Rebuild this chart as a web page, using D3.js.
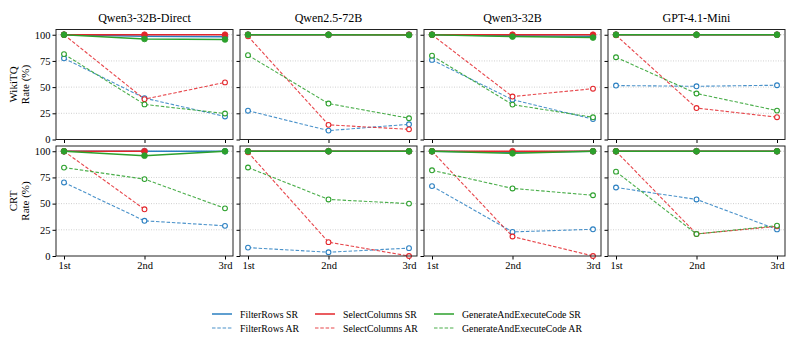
<!DOCTYPE html>
<html>
<head>
<meta charset="utf-8">
<script src="https://cdn.jsdelivr.net/npm/d3@7"></script>
<style>
  body { margin: 0; background: #fff; }
</style>
</head>
<body>
<div id="container"></div>
<script>
/* DATA */
const models = ["Qwen3-32B-Direct", "Qwen2.5-72B", "Qwen3-32B", "GPT-4.1-Mini"];
const rounds = ["1st", "2nd", "3rd"];
const datasets = ["WikiTQ", "CRT"];
const yTicks = [0, 25, 50, 75, 100];

// one row per model, values per round (null = no data)
const wikiFilterSR = [[100, 98.5, 98], [100, 100, 100], [100, 99, 98.5], [100, 100, 100]];
const wikiFilterAR = [[77.5, 39.5, 22], [27.5, 8.5, 14.5], [76, 38, 19.5], [51.5, 50.8, 51.8]];
const wikiSelectSR = [[100, 100, 100], [100, 100, 100], [100, 100, 100], [100, 100, 100]];
const wikiSelectAR = [[100, 38.5, 54.5], [98.5, 14, 9.7], [100, 41, 48.5], [99.5, 30, 21.3]];
const wikiCodeSR = [[100, 96, 95.5], [100, 100, 99.7], [100, 98.2, 97.3], [100, 100, 100]];
const wikiCodeAR = [[81.5, 33.5, 24.8], [80.5, 34.3, 20.3], [80, 33.3, 21.2], [78.5, 43.9, 27.6]];

const crtFilterSR = [[100, 100, 100], [100, 100, 100], [100, 99, 100], [100, 100, 100]];
const crtFilterAR = [[70.2, 33.6, 28.8], [8, 3.6, 7.5], [66.7, 23, 25.5], [65.4, 54, 25.4]];
const crtSelectSR = [[100, 100, null], [100, 100, 100], [100, 100, 100], [100, 100, 100]];
const crtSelectAR = [[100, 44.6, null], [99, 13.2, 0], [100, 18.6, 0], [100, 21, 28.3]];
const crtCodeSR = [[100, 95.8, 100], [100, 100, 100], [100, 98, 100], [100, 100, 100]];
const crtCodeAR = [[84.4, 73.4, 45.5], [84.5, 54, 50], [81.8, 64.5, 58], [80.5, 21, 29]];

const seriesNames = ["FilterRows", "SelectColumns", "GenerateAndExecuteCode"];
const seriesColors = ["#2a7fc1", "#e3262b", "#2ca02c"];
const wikiSeries = [[wikiFilterSR, wikiFilterAR], [wikiSelectSR, wikiSelectAR], [wikiCodeSR, wikiCodeAR]];
const crtSeries = [[crtFilterSR, crtFilterAR], [crtSelectSR, crtSelectAR], [crtCodeSR, crtCodeAR]];

/* LAYOUT */
const width = 792, height = 342;
const panelW = 177, panelH = 110, gapX = 7;
const panelLeft = 56;
const rowTops = [29.5, 146];

const svg = d3.select("#container").append("svg")
  .attr("width", width)
  .attr("height", height)
  .style("font-family", "'Liberation Serif', 'Times New Roman', Times, serif");

svg.append("rect").attr("width", width).attr("height", height).attr("fill", "#fff");

// 1st/3rd sit ~8px in from the frame edges
const x = d3.scalePoint().domain(rounds).range([8, panelW - 8]);
const y = d3.scaleLinear().domain([0, 105]).range([panelH, 0]);

datasets.forEach((ds, row) => {
  const series = row === 0 ? wikiSeries : crtSeries;

  models.forEach((model, col) => {
    const g = svg.append("g")
      .attr("transform", `translate(${panelLeft + col * (panelW + gapX)},${rowTops[row]})`);

    // grid
    g.selectAll("line.grid")
      .data(yTicks.filter(t => t > 0))
      .join("line")
      .attr("class", "grid")
      .attr("x1", 0).attr("x2", panelW)
      .attr("y1", d => y(d)).attr("y2", d => y(d))
      .attr("stroke", "#bbb")
      .attr("stroke-width", 0.7)
      .attr("stroke-dasharray", "1,1.5");

    // y axis
    const yAxis = d3.axisLeft(y).tickValues(yTicks).tickSize(3.5).tickPadding(2);
    if (col > 0) yAxis.tickFormat("");
    g.append("g").call(yAxis)
      .attr("font-family", null)
      .call(a => a.select(".domain").remove())
      .call(a => a.selectAll("text").attr("font-size", 10.5).attr("fill", "#000"));

    // x axis
    const xAxis = d3.axisBottom(x).tickSize(3.5).tickPadding(2);
    if (row === 0) xAxis.tickFormat("");
    g.append("g").attr("transform", `translate(0,${panelH})`).call(xAxis)
      .attr("font-family", null)
      .call(a => a.select(".domain").remove())
      .call(a => a.selectAll("text").attr("font-size", 10.5).attr("fill", "#000"));

    // lines & markers
    series.forEach(([srArr, arArr], si) => {
      const color = seriesColors[si];
      [[srArr, false], [arArr, true]].forEach(([arr, isAR]) => {
        const vals = arr[col].map((v, i) => ({ r: rounds[i], v }));
        const line = d3.line()
          .defined(d => d.v !== null)
          .x(d => x(d.r))
          .y(d => y(d.v));
        g.append("path")
          .attr("d", line(vals))
          .attr("fill", "none")
          .attr("stroke", color)
          .attr("stroke-width", isAR ? 1.1 : 1.5)
          .attr("stroke-opacity", isAR ? 0.85 : 1)
          .attr("stroke-dasharray", isAR ? "3.5,1.8" : null);
        g.selectAll(null)
          .data(vals.filter(d => d.v !== null))
          .join("circle")
          .attr("cx", d => x(d.r))
          .attr("cy", d => y(d.v))
          .attr("r", isAR ? 2.4 : 2.9)
          .attr("fill", isAR ? "#fff" : color)
          .attr("stroke", color)
          .attr("stroke-width", isAR ? 1.1 : 0.8);
      });
    });

    // frame
    g.append("rect")
      .attr("width", panelW).attr("height", panelH)
      .attr("fill", "none")
      .attr("stroke", "#222")
      .attr("stroke-width", 1);

    if (row === 0) {
      g.append("text")
        .attr("x", panelW / 2).attr("y", -8)
        .attr("text-anchor", "middle")
        .attr("font-size", 12)
        .text(model);
    }
  });

  // y label
  const cy = rowTops[row] + panelH / 2;
  const lab = svg.append("text")
    .attr("transform", `translate(17,${cy}) rotate(-90)`)
    .attr("text-anchor", "middle")
    .attr("font-size", 11);
  lab.append("tspan").attr("x", 0).attr("dy", 0).text(ds);
  lab.append("tspan").attr("x", 0).attr("dy", 12).text("Rate (%)");
});

/* LEGEND */
const legendCols = [212, 315, 434];
const legendRows = [314, 328];
seriesNames.forEach((name, si) => {
  ["SR", "AR"].forEach((kind, ki) => {
    const lg = svg.append("g").attr("transform", `translate(${legendCols[si]},${legendRows[ki]})`);
    lg.append("line")
      .attr("x1", 0).attr("x2", 20)
      .attr("stroke", seriesColors[si])
      .attr("stroke-width", kind === "SR" ? 1.5 : 1.1)
      .attr("stroke-opacity", kind === "SR" ? 1 : 0.85)
      .attr("stroke-dasharray", kind === "SR" ? null : "3.5,1.8");
    lg.append("text")
      .attr("x", 28).attr("y", 3.5)
      .attr("font-size", 9.8)
      .text(`${name} ${kind}`);
  });
});
</script>
</body>
</html>
